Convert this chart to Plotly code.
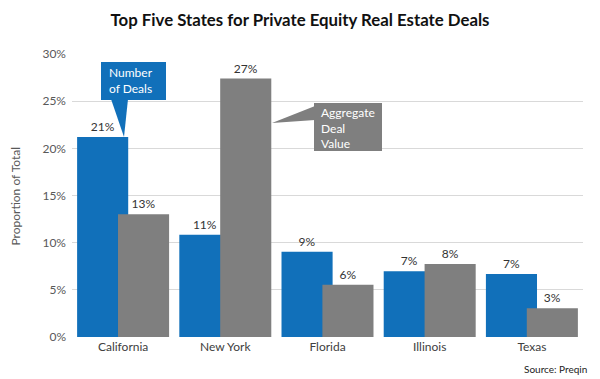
import plotly.graph_objects as go

categories = ["California", "New York", "Florida", "Illinois", "Texas"]
number_of_deals = [21.2, 10.85, 9.05, 6.96, 6.67]
aggregate_value = [13.0, 27.4, 5.55, 7.73, 3.04]
y_ticks = [0, 5, 10, 15, 20, 25, 30]
y_tick_labels = [f"{v}%" for v in y_ticks]

BLUE = "#1170BA"
GRAY = "#7F7F7F"
FONT = "Lato"

# The page body has an 8px margin; size the figure so it fills the window.
OFF = 8
W, H = 600 - OFF, 379 - OFF
# plot-area edges in window pixels: left 72, right 583, top 54, bottom 337
L, R, T, B = 72 - OFF, 600 - 583, 54 - OFF, 379 - 337
PW, PH = W - L - R, H - T - B


def px(x):
    """window pixel x -> paper fraction"""
    return (x - OFF - L) / PW


def py(y):
    """window pixel y -> paper fraction"""
    return (OFF + T + PH - y) / PH


fig = go.Figure()
fig.add_trace(go.Bar(
    x=categories, y=number_of_deals, name="Number of Deals",
    marker=dict(color=BLUE, line=dict(width=0)),
    width=0.5, offset=-0.45,
    texttemplate="%{y:.0f}%", textposition="outside",
    textfont=dict(family=FONT, size=12, color="#333333"),
    cliponaxis=False,
))
fig.add_trace(go.Bar(
    x=categories, y=aggregate_value, name="Aggregate Deal Value",
    marker=dict(color=GRAY, line=dict(width=0)),
    width=0.5, offset=-0.05,
    texttemplate="%{y:.0f}%", textposition="outside",
    textfont=dict(family=FONT, size=12, color="#333333"),
    cliponaxis=False,
))

shapes = [
    # Number of Deals callout
    dict(type="rect", xref="paper", yref="paper",
         x0=px(101), x1=px(166), y0=py(100), y1=py(62),
         fillcolor=BLUE, line=dict(width=0), layer="above"),
    dict(type="path", xref="paper", yref="paper",
         path=f"M {px(111)} {py(99)} L {px(128)} {py(99)} L {px(124)} {py(137)} Z",
         fillcolor=BLUE, line=dict(width=0), layer="above"),
    # Aggregate Deal Value callout
    dict(type="rect", xref="paper", yref="paper",
         x0=px(314), x1=px(382), y0=py(151), y1=py(103),
         fillcolor=GRAY, line=dict(width=0), layer="above"),
    dict(type="path", xref="paper", yref="paper",
         path=f"M {px(315)} {py(106)} L {px(315)} {py(120)} L {px(272)} {py(123)} Z",
         fillcolor=GRAY, line=dict(width=0), layer="above"),
]

callout_font = dict(family=FONT, size=12, color="white")
annotations = [
    dict(xref="paper", yref="paper", x=px(108), y=py(80.5),
         xanchor="left", yanchor="middle", text="Number<br>of Deals", align="left",
         showarrow=False, font=callout_font, borderpad=0),
    dict(xref="paper", yref="paper", x=px(320), y=py(128),
         xanchor="left", yanchor="middle", text="Aggregate<br>Deal<br>Value", align="left",
         showarrow=False, font=callout_font, borderpad=0),
    dict(xref="paper", yref="paper", x=px(15), y=py(196.5), xanchor="center", yanchor="middle",
         text="Proportion of Total", textangle=-90, showarrow=False,
         font=dict(family=FONT, size=12, color="#595959")),
    dict(xref="paper", yref="paper", x=px(589), y=py(369), xanchor="right", yanchor="middle",
         text="Source: Preqin", showarrow=False,
         font=dict(family=FONT, size=10, color="#222222")),
]

fig.update_layout(
    template="none",
    width=W, height=H,
    margin=dict(l=L, r=R, t=T, b=B, pad=0, autoexpand=False),
    paper_bgcolor="white", plot_bgcolor="white",
    barmode="overlay",
    showlegend=False,
    title=dict(text="<b>Top Five States for Private Equity Real Estate Deals</b>",
               x=(300 - OFF) / W, xanchor="center", xref="container",
               y=1 - (20 - OFF) / H, yanchor="middle", yref="container",
               font=dict(family=FONT, size=16.8, color="#111111")),
    font=dict(family=FONT, size=12, color="#404040"),
    shapes=shapes,
    annotations=annotations,
    xaxis=dict(
        showgrid=False, zeroline=False, showline=False, ticks="",
        automargin=False, ticklabelstandoff=1,
        tickfont=dict(family=FONT, size=12, color="#404040"),
    ),
    yaxis=dict(
        range=[0, 30], autorange=False,
        tickmode="array", tickvals=y_ticks, ticktext=y_tick_labels,
        showgrid=True, gridcolor="#D9D9D9", gridwidth=1,
        zeroline=False, showline=False, ticks="",
        automargin=False, ticklabelstandoff=5,
        tickfont=dict(family=FONT, size=12, color="#595959"),
    ),
)

fig.write_html("out.html")
